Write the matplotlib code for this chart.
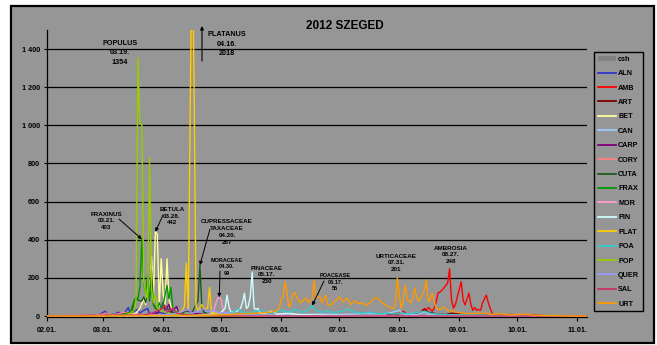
"""Daily pollen counts, Szeged 2012."""

from __future__ import annotations

import matplotlib

matplotlib.use("Agg")
import matplotlib.dates as mdates
import matplotlib.pyplot as plt
import pandas as pd
from matplotlib.lines import Line2D
from matplotlib.patches import Patch, Rectangle
from matplotlib.ticker import FuncFormatter, MultipleLocator
from matplotlib.transforms import Affine2D

YEAR = 2012
WIDTH, HEIGHT = 657, 345
BACKGROUND = "#969696"

plt.rcParams["font.family"] = ["Liberation Sans", "DejaVu Sans"]
plt.rcParams["font.weight"] = "bold"

# daily counts (pollen grains / m3), dates as MM-DD
ALN_DAYS = ["02-01", "02-20", "02-28", "03-02", "03-04", "03-07", "03-09", "03-11", "03-13", "03-14",
            "03-15", "03-17", "03-19", "03-20", "03-22", "03-24", "03-25", "03-28", "04-01", "04-05",
            "04-12", "04-25", "11-06"]
ALN_VALUES = [0, 3, 8, 25, 5, 10, 20, 8, 30, 45, 15, 25, 35, 15, 30, 40, 10, 20, 15, 8, 5, 0, 0]

AMB_DAYS = ["02-01", "07-20", "07-28", "08-01", "08-03", "08-05", "08-09", "08-12", "08-14", "08-15",
            "08-16", "08-17", "08-18", "08-19", "08-20", "08-21", "08-22", "08-23", "08-24", "08-25",
            "08-26", "08-27", "08-28", "08-29", "08-30", "08-31", "09-01", "09-02", "09-03", "09-04",
            "09-05", "09-06", "09-07", "09-08", "09-09", "09-10", "09-11", "09-12", "09-13", "09-14",
            "09-15", "09-16", "09-17", "09-18", "09-19", "09-28", "10-03", "10-08", "10-15", "10-25",
            "11-06"]
AMB_VALUES = [0, 3, 8, 15, 25, 10, 12, 20, 40, 30, 45, 35, 25, 40, 70, 120, 126, 135, 147, 160,
              173, 248, 84, 42, 60, 100, 140, 180, 84, 58, 90, 120, 60, 30, 45, 30, 35, 30, 68, 90,
              110, 70, 40, 15, 3, 8, 5, 6, 2, 0, 0]

ART_DAYS = ["02-01", "07-20", "07-28", "08-02", "08-04", "08-10", "08-13", "08-14", "08-16", "08-20",
            "08-25", "08-28", "09-02", "09-08", "09-20", "10-01", "11-06"]
ART_VALUES = [0, 2, 5, 15, 5, 8, 25, 35, 20, 12, 8, 15, 10, 6, 3, 0, 0]

BET_DAYS = ["02-01", "03-10", "03-18", "03-20", "03-22", "03-23", "03-24", "03-25", "03-26", "03-27",
            "03-28", "03-29", "03-30", "03-31", "04-01", "04-02", "04-03", "04-04", "04-05", "04-07",
            "04-10", "04-15", "04-25", "11-06"]
BET_VALUES = [0, 3, 15, 40, 90, 60, 170, 90, 311, 100, 442, 430, 50, 300, 120, 60, 300, 90, 50, 30,
              15, 8, 0, 0]

CAN_DAYS = ["02-01", "05-20", "06-01", "06-10", "06-20", "07-01", "07-15", "07-25", "08-01", "08-03",
            "08-10", "08-14", "08-16", "08-25", "09-05", "09-20", "10-05", "11-06"]
CAN_VALUES = [0, 3, 5, 8, 10, 8, 12, 10, 30, 10, 8, 20, 10, 6, 4, 2, 0, 0]

CARP_DAYS = ["02-01", "03-25", "03-29", "03-31", "04-01", "04-02", "04-04", "04-05", "04-08", "04-09",
             "04-13", "04-17", "04-22", "05-01", "05-10", "11-06"]
CARP_VALUES = [0, 5, 15, 40, 70, 30, 60, 20, 50, 15, 30, 15, 8, 3, 0, 0]

CORY_DAYS = ["02-01", "02-25", "03-01", "03-03", "03-05", "03-09", "03-12", "03-15", "03-20", "03-28",
             "04-10", "11-06"]
CORY_VALUES = [0, 5, 10, 15, 5, 12, 20, 10, 8, 5, 0, 0]

CUTA_DAYS = ["02-01", "03-10", "03-16", "03-17", "03-18", "03-19", "03-20", "03-21", "03-22", "03-23",
             "03-24", "03-25", "03-26", "03-27", "03-28", "03-30", "04-02", "04-05", "04-10", "04-14",
             "04-16", "04-18", "04-19", "04-20", "04-21", "04-22", "04-26", "05-05", "11-06"]
CUTA_VALUES = [0, 2, 20, 70, 90, 85, 80, 80, 100, 70, 130, 80, 240, 60, 40, 30, 50, 20, 15, 30,
               20, 60, 80, 267, 50, 20, 10, 0, 0]

FRAX_DAYS = ["02-01", "03-10", "03-15", "03-17", "03-18", "03-19", "03-20", "03-21", "03-22", "03-23",
             "03-24", "03-25", "03-26", "03-27", "03-28", "03-29", "03-30", "03-31", "04-01", "04-02",
             "04-03", "04-04", "04-05", "04-06", "04-08", "04-12", "04-20", "05-01", "11-06"]
FRAX_VALUES = [0, 3, 20, 80, 100, 90, 150, 403, 170, 120, 220, 90, 150, 60, 50, 40, 70, 40, 60, 110,
               160, 90, 150, 40, 20, 10, 5, 0, 0]

MOR_DAYS = ["02-01", "04-20", "04-24", "04-27", "04-28", "04-29", "04-30", "05-01", "05-02", "05-03",
            "05-08", "05-15", "05-25", "11-06"]
MOR_VALUES = [0, 3, 8, 15, 60, 90, 99, 85, 30, 10, 8, 3, 0, 0]

PIN_DAYS = ["02-01", "04-15", "04-25", "04-30", "05-03", "05-04", "05-05", "05-06", "05-09", "05-11",
            "05-12", "05-13", "05-14", "05-15", "05-16", "05-17", "05-18", "05-19", "05-20", "05-21",
            "05-24", "05-27", "05-30", "06-05", "06-10", "06-20", "07-01", "07-20", "11-06"]
PIN_VALUES = [0, 3, 8, 10, 40, 110, 50, 20, 25, 40, 70, 120, 40, 50, 100, 230, 40, 35, 40, 15,
              15, 25, 10, 15, 8, 5, 3, 0, 0]

PLAT_DAYS = ["02-01", "04-05", "04-09", "04-11", "04-12", "04-13", "04-14", "04-15", "04-16", "04-17",
             "04-18", "04-19", "04-21", "04-22", "04-24", "04-25", "04-26", "04-30", "05-05", "05-15",
             "11-06"]
PLAT_VALUES = [0, 3, 15, 30, 50, 278, 30, 1100, 2018, 1200, 50, 30, 60, 40, 40, 150, 20, 10, 5, 0, 0]

POA_DAYS = ["02-01", "04-25", "05-01", "05-05", "05-08", "05-10", "05-12", "05-15", "05-19", "05-22",
            "05-25", "05-28", "06-01", "06-05", "06-08", "06-11", "06-14", "06-17", "06-19", "06-22",
            "06-25", "06-28", "07-01", "07-04", "07-06", "07-09", "07-13", "07-17", "07-21", "07-25",
            "07-29", "08-02", "08-06", "08-10", "08-14", "08-18", "08-24", "08-30", "09-08", "09-20",
            "10-05", "10-20", "11-06"]
POA_VALUES = [0, 3, 8, 12, 25, 38, 20, 15, 25, 30, 15, 20, 30, 20, 35, 20, 25, 55, 30, 20, 25, 18,
              22, 30, 35, 20, 15, 20, 12, 15, 10, 15, 12, 18, 25, 12, 8, 6, 5, 3, 2, 0, 0]

POP_DAYS = ["02-01", "03-05", "03-12", "03-15", "03-17", "03-18", "03-19", "03-20", "03-21", "03-22",
            "03-23", "03-24", "03-25", "03-26", "03-27", "03-28", "03-29", "03-31", "04-03", "04-08",
            "04-15", "04-25", "11-06"]
POP_VALUES = [0, 0, 5, 15, 30, 90, 1354, 1010, 1005, 180, 120, 90, 830, 140, 70, 110, 40, 30, 15, 8,
              3, 0, 0]

QUER_DAYS = ["02-01", "03-30", "04-05", "04-10", "04-14", "04-16", "04-19", "04-22", "04-24", "04-27",
             "04-30", "05-03", "05-06", "05-12", "05-25", "11-06"]
QUER_VALUES = [0, 3, 10, 20, 35, 15, 25, 40, 20, 30, 15, 20, 10, 5, 0, 0]

SAL_DAYS = ["02-01", "03-22", "03-26", "03-30", "04-02", "04-03", "04-06", "04-08", "04-12", "04-20",
            "05-01", "11-06"]
SAL_VALUES = [0, 5, 15, 30, 55, 20, 40, 15, 8, 3, 0, 0]

URT_DAYS = ["02-01", "04-10", "04-25", "05-05", "05-12", "05-20", "05-26", "05-29", "05-31", "06-01",
            "06-02", "06-03", "06-04", "06-05", "06-06", "06-07", "06-08", "06-09", "06-11", "06-12",
            "06-14", "06-15", "06-17", "06-18", "06-19", "06-21", "06-22", "06-24", "06-25", "06-27",
            "06-29", "07-01", "07-03", "07-05", "07-07", "07-09", "07-11", "07-13", "07-15", "07-17",
            "07-19", "07-21", "07-23", "07-25", "07-27", "07-29", "07-30", "07-31", "08-01", "08-02",
            "08-03", "08-04", "08-05", "08-07", "08-08", "08-09", "08-10", "08-11", "08-12", "08-13",
            "08-14", "08-15", "08-16", "08-17", "08-18", "08-20", "08-21", "08-22", "08-24", "08-26",
            "08-28", "08-30", "09-01", "09-03", "09-06", "09-10", "09-14", "09-18", "09-22", "09-27",
            "10-02", "10-06", "10-09", "10-13", "10-20", "10-28", "11-06"]
URT_VALUES = [0, 2, 5, 8, 12, 15, 20, 25, 40, 90, 100, 180, 120, 47, 60, 110, 126, 100, 68, 80, 95,
              70, 90, 188, 95, 100, 70, 110, 58, 60, 80, 100, 75, 94, 60, 80, 65, 70, 55, 70, 94, 94,
              70, 58, 45, 40, 60, 201, 110, 40, 80, 162, 90, 68, 100, 148, 94, 80, 94, 110, 140,
              190, 73, 90, 120, 42, 38, 35, 47, 30, 25, 22, 18, 15, 12, 14, 15, 8, 12, 6, 8,
              10, 4, 3, 2, 0, 0]

# legend order, colours
SERIES = [
    ("ALN", "#3333CC", ALN_DAYS, ALN_VALUES),
    ("AMB", "#FF0000", AMB_DAYS, AMB_VALUES),
    ("ART", "#800000", ART_DAYS, ART_VALUES),
    ("BET", "#FFFF99", BET_DAYS, BET_VALUES),
    ("CAN", "#99CCFF", CAN_DAYS, CAN_VALUES),
    ("CARP", "#800080", CARP_DAYS, CARP_VALUES),
    ("CORY", "#FF8080", CORY_DAYS, CORY_VALUES),
    ("CUTA", "#1E5A1E", CUTA_DAYS, CUTA_VALUES),
    ("FRAX", "#009900", FRAX_DAYS, FRAX_VALUES),
    ("MOR", "#FF99CC", MOR_DAYS, MOR_VALUES),
    ("PIN", "#CCFFFF", PIN_DAYS, PIN_VALUES),
    ("PLAT", "#FFCC00", PLAT_DAYS, PLAT_VALUES),
    ("POA", "#33CCCC", POA_DAYS, POA_VALUES),
    ("POP", "#99CC00", POP_DAYS, POP_VALUES),
    ("QUER", "#9999FF", QUER_DAYS, QUER_VALUES),
    ("SAL", "#CC3366", SAL_DAYS, SAL_VALUES),
    ("URT", "#FF9900", URT_DAYS, URT_VALUES),
]

# peak labels: (text lines, taxon, peak day, text centre in px, arrow start in px or None, size)
PEAK_LABELS = [
    ("POPULUS\n03.19.\n1354", "POP", "03-19", (120, 53), None, 5.2),
    ("FRAXINUS\n03.21.\n403", "FRAX", "03-21", (106, 221), (119, 219), 4.5),
    ("BETULA\n03.28.\n442", "BET", "03-28", (172, 216), (163, 215), 4.5),
    ("CUPRESSACEAE\nTAXACEAE\n04.20.\n267", "CUTA", "04-20", (227, 232), (210, 229), 4.5),
    ("MORACEAE\n04.30.\n99", "MOR", "04-30", (227, 267), (220, 271), 4.0),
    ("PINACEAE\n05.17.\n230", "PIN", "05-17", (267, 275), None, 4.5),
    ("POACEASE\n06.17.\n55", "POA", "06-17", (335, 282), (324, 281), 4.0),
    ("URTICACEAE\n07.31.\n201", "URT", "07-31", (396, 263), None, 4.5),
    ("AMBROSIA\n08.27.\n248", "AMB", "08-27", (451, 255), None, 4.5),
]


def to_dates(days):
    return pd.to_datetime([f"{YEAR}-{d}" for d in days])


def main() -> None:
    fig = plt.figure(figsize=(WIDTH / 100, HEIGHT / 100), dpi=100)
    fig.patch.set_facecolor("white")
    px = Affine2D().scale(1 / WIDTH, -1 / HEIGHT).translate(0, 1) + fig.transFigure

    frame = Rectangle((11, 343), 643, -337, transform=px, facecolor=BACKGROUND,
                      edgecolor="black", linewidth=1.6, zorder=0)
    fig.add_artist(frame)

    ax = fig.add_axes([47 / WIDTH, 1 - 316.8 / HEIGHT, 540 / WIDTH, 286.8 / HEIGHT])
    ax.set_facecolor("none")

    handles = [Patch(facecolor="#808080", edgecolor="none", label="csh")]
    lookup = {}
    for label, color, days, values in SERIES:
        dates = to_dates(days)
        ax.plot(dates, values, color=color, linewidth=1.0, label=label, zorder=3)
        handles.append(Line2D([], [], color=color, linewidth=1.3, label=label))
        lookup[label] = dict(zip(days, values))

    ax.set_xlim(pd.Timestamp(f"{YEAR}-02-01"), pd.Timestamp(f"{YEAR}-11-06"))
    ax.set_ylim(-4, 1500)

    ax.xaxis.set_major_locator(mdates.MonthLocator())
    ax.xaxis.set_major_formatter(mdates.DateFormatter("%m.%d."))
    ax.yaxis.set_major_locator(MultipleLocator(200))
    ax.yaxis.set_major_formatter(FuncFormatter(lambda v, _: f"{int(v):,}".replace(",", " ")))
    ax.set_yticks(range(0, 1401, 200))

    for level in range(200, 1401, 200):
        ax.axhline(level, color="black", linewidth=0.9, zorder=1)

    for side in ("top", "right"):
        ax.spines[side].set_visible(False)
    ax.spines["left"].set_linewidth(0.9)
    ax.spines["bottom"].set_linewidth(0.9)
    ax.tick_params(axis="x", length=3, width=0.8, pad=4, labelsize=5.2)
    ax.tick_params(axis="y", length=2, width=0.8, pad=3, labelsize=5.2)

    fig.text(345 / WIDTH, 1 - 26 / HEIGHT, "2012 SZEGED", ha="center", va="center",
             fontsize=8.5, fontweight="bold")

    for text, taxon, day, centre, start, size in PEAK_LABELS:
        ax.text(*centre, text, transform=px, ha="center", va="center", fontsize=size,
                fontweight="bold", linespacing=1.45, zorder=5)
        if start is not None:
            peak = (pd.Timestamp(f"{YEAR}-{day}"), lookup[taxon][day])
            ax.annotate("", xy=peak, xycoords="data", xytext=start, textcoords=px,
                        arrowprops=dict(arrowstyle="-|>", color="black", linewidth=0.7,
                                        mutation_scale=5, shrinkA=0, shrinkB=0), zorder=5)

    # off-scale plane tree peak
    ax.text(227, 44, "PLATANUS\n04.16.\n2018", transform=px, ha="center", va="center",
            fontsize=5.2, fontweight="bold", linespacing=1.45, zorder=5)
    ax.annotate("", xy=(202, 26), xycoords=px, xytext=(202, 61), textcoords=px,
                arrowprops=dict(arrowstyle="-|>", color="black", linewidth=0.8,
                                mutation_scale=5, shrinkA=0, shrinkB=0))

    fig.legend(handles=handles, loc="upper left", bbox_to_anchor=(594 / WIDTH, 1 - 52 / HEIGHT),
               fontsize=5.2, frameon=True, fancybox=False, edgecolor="black",
               facecolor=BACKGROUND, framealpha=1, labelspacing=1.02, handlelength=2.6,
               handletextpad=0.25, borderpad=0.5, borderaxespad=0)

    fig.savefig("out.png", dpi=100)
    plt.close(fig)


if __name__ == "__main__":
    main()
